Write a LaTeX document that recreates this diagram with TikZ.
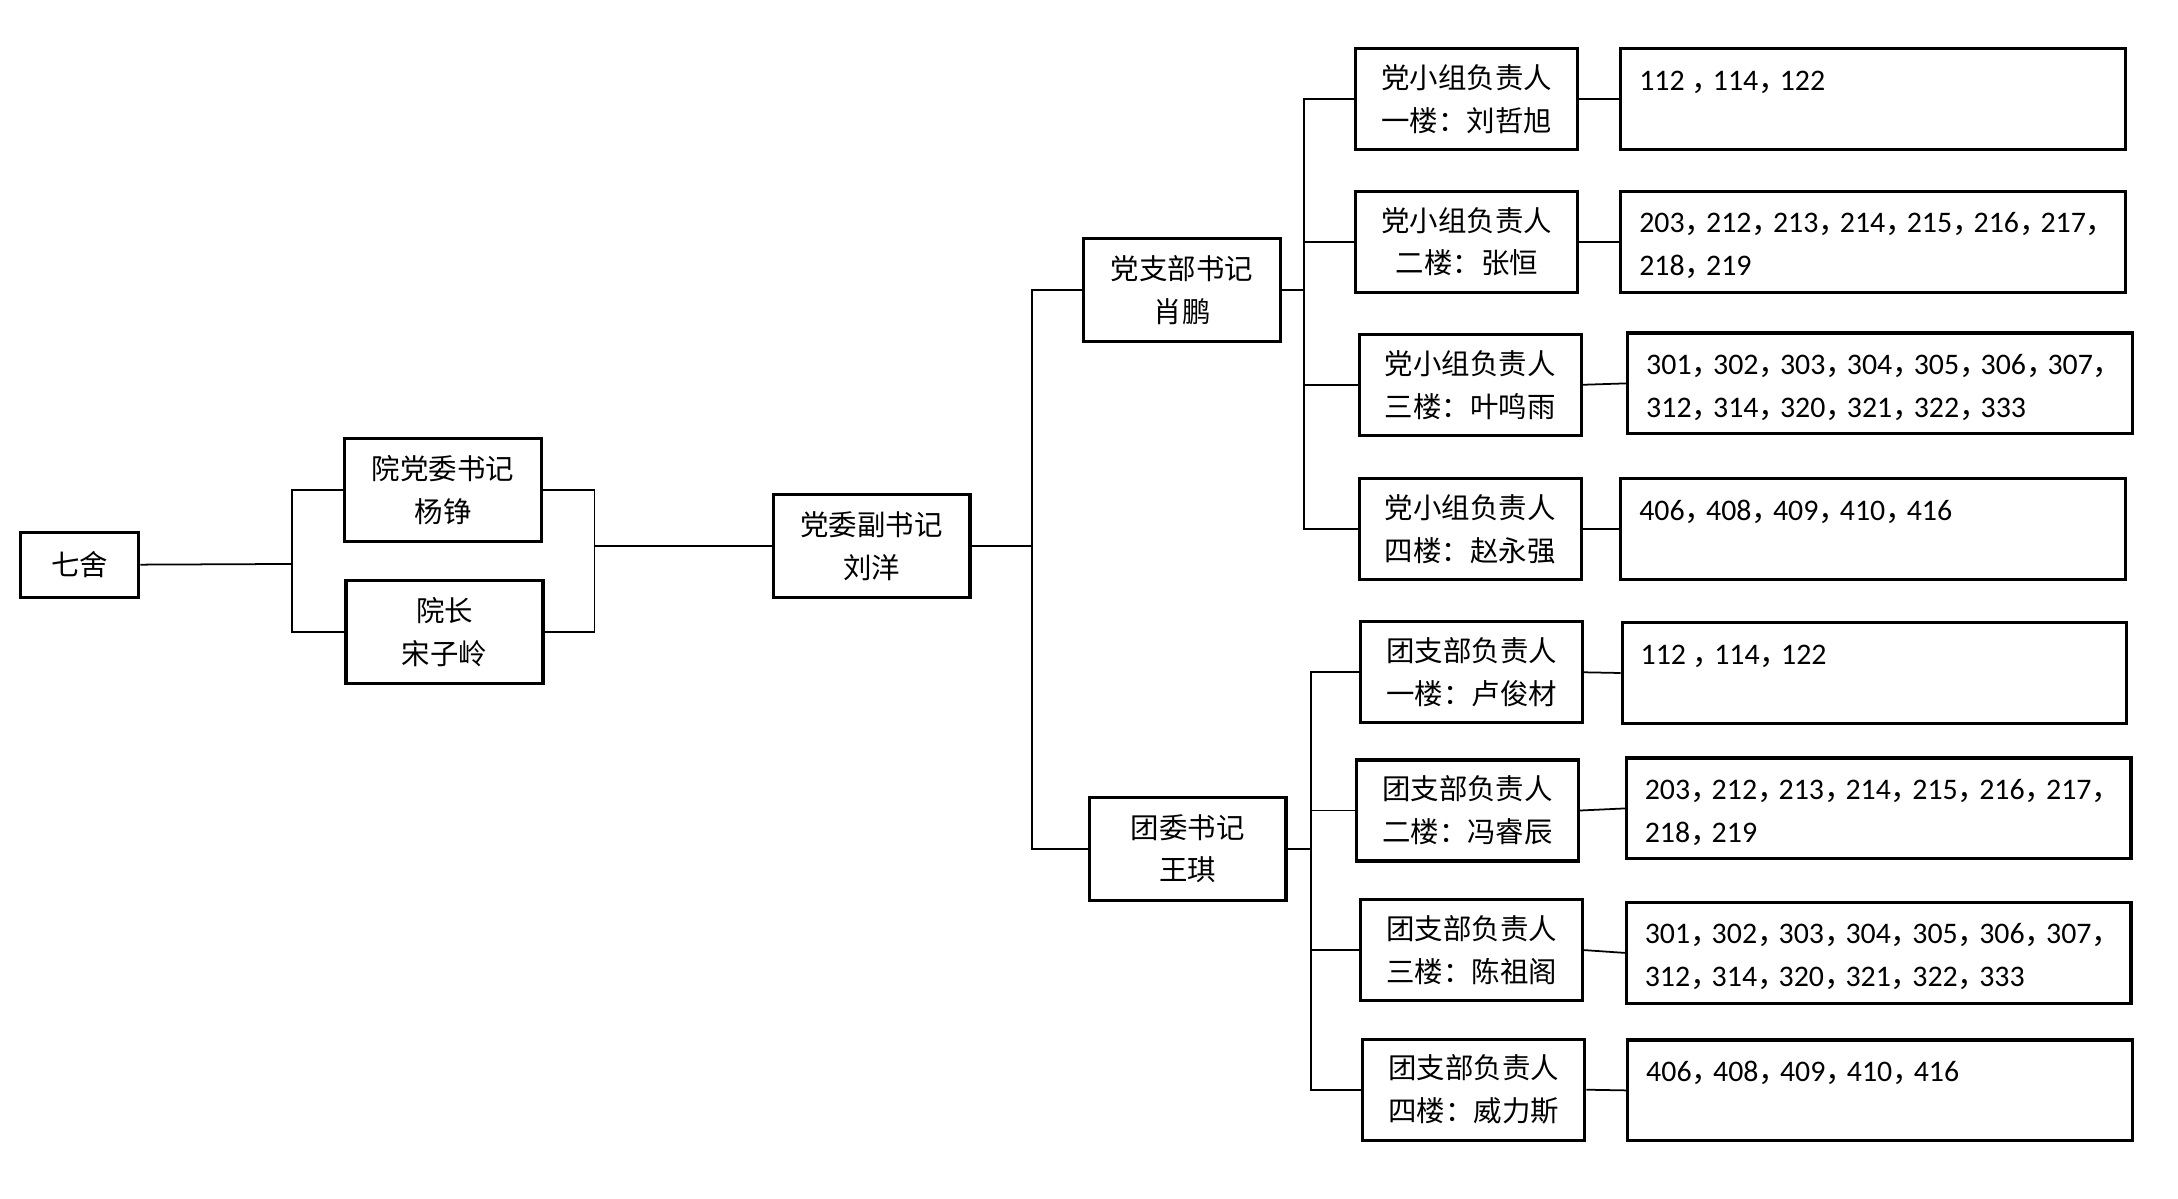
\documentclass[tikz,border=0pt]{standalone}
\usepackage{fontspec}
\setmainfont{Carlito}
\newfontfamily\cjk{Noto Sans CJK SC}
\usetikzlibrary{calc}
% full-width comma, a bit narrowed
\newcommand{\zdh}{\makebox[0.72em][l]{\cjk ，}}
\newcommand{\roomlist}[1]{\parbox[c][0.78cm][t]{4.68cm}{\raggedright\strut #1}}
\tikzset{
  box/.style={draw, line width=0.9pt, minimum width=1.97cm, minimum height=1.03cm,
    align=center, inner sep=1pt, font=\cjk\fontsize{8.1}{12.2}\selectfont},
  floorbox/.style={box, minimum width=2.22cm, minimum height=1.01cm},
  roombox/.style={draw, line width=0.9pt, minimum width=5.05cm, minimum height=1.01cm,
    inner sep=1pt, font=\fontsize{8.5}{12.2}\selectfont},
  link/.style={line width=0.5pt}
}
\begin{document}
\begin{tikzpicture}[x=0.0139cm, y=-0.0139cm]
        \useasboundingbox (0,0) rectangle (1568,863);
        % left part
        \node[box, minimum width=1.18cm, minimum height=0.65cm] (qs) at (57.5,406.5) {七舍};
        \node[box] (ydw) at (319,353) {院党委书记\\杨铮};
        \node[box] (yz) at (320,455) {院长\\宋子岭};
        \node[box] (fsj) at (627.5,393) {党委副书记\\刘洋};
        \node[box] (zb) at (851,209) {党支部书记\\肖鹏};
        \node[box] (tw) at (855,611) {团委书记\\王琪};
        % party groups
        \node[floorbox] (p1) at (1056,71.5) {党小组负责人\\一楼：刘哲旭};
        \node[floorbox] (p2) at (1056,174) {党小组负责人\\二楼：张恒};
        \node[floorbox] (p3) at (1058.5,277) {党小组负责人\\三楼：叶鸣雨};
        \node[floorbox] (p4) at (1058.5,381) {党小组负责人\\四楼：赵永强};
        \node[roombox] (pr1) at (1348.5,71.5) {\roomlist{112 \zdh 114\zdh 122}};
        \node[roombox] (pr2) at (1348.5,174) {\roomlist{203\zdh 212\zdh 213\zdh 214\zdh 215\zdh 216\zdh 217\zdh\\218\zdh 219}};
        \node[roombox] (pr3) at (1353.5,276) {\roomlist{301\zdh 302\zdh 303\zdh 304\zdh 305\zdh 306\zdh 307\zdh\\312\zdh 314\zdh 320\zdh 321\zdh 322\zdh 333}};
        \node[roombox] (pr4) at (1348.5,381) {\roomlist{406\zdh 408\zdh 409\zdh 410\zdh 416}};
        % youth groups
        \node[floorbox] (t1) at (1059.5,484) {团支部负责人\\一楼：卢俊材};
        \node[floorbox] (t2) at (1056.5,583.5) {团支部负责人\\二楼：冯睿辰};
        \node[floorbox] (t3) at (1059.5,684) {团支部负责人\\三楼：陈祖阁};
        \node[floorbox] (t4) at (1061,784.5) {团支部负责人\\四楼：威力斯};
        \node[roombox] (tr1) at (1349.5,484.5) {\roomlist{112 \zdh 114\zdh 122}};
        \node[roombox] (tr2) at (1352.5,582) {\roomlist{203\zdh 212\zdh 213\zdh 214\zdh 215\zdh 216\zdh 217\zdh\\218\zdh 219}};
        \node[roombox] (tr3) at (1352.5,686) {\roomlist{301\zdh 302\zdh 303\zdh 304\zdh 305\zdh 306\zdh 307\zdh\\312\zdh 314\zdh 320\zdh 321\zdh 322\zdh 333}};
        \node[roombox] (tr4) at (1353.5,785) {\roomlist{406\zdh 408\zdh 409\zdh 410\zdh 416}};
        % junctions
        \coordinate (jL) at (210,406);
        \coordinate (jR) at (428,393);
        \coordinate (jM) at (743,393);
        \coordinate (jP) at (939,209);
        \coordinate (jT) at (944,611);
        % connectors
        \draw[link] (qs.east) -- (jL);
        \draw[link] (ydw.west) -| (jL) |- (yz.west);
        \draw[link] (ydw.east) -| (jR) |- (yz.east);
        \draw[link] (jR) -- (fsj.west);
        \draw[link] (fsj.east) -- (jM);
        \draw[link] (zb.west) -| (jM) |- (tw.west);
        \draw[link] (zb.east) -- (jP);
        \draw[link] (p1.west) -| (jP) |- (p4.west);
        \draw[link] (tw.east) -- (jT);
        \draw[link] (t1.west) -| (jT) |- (t4.west);
        \foreach \i in {2,3} {
          \draw[link] (jP |- p\i.west) -- (p\i.west);
          \draw[link] (jT |- t\i.west) -- (t\i.west);
        }
        \foreach \i in {1,...,4} {
          \draw[link] (p\i.east) -- (pr\i.west);
          \draw[link] (t\i.east) -- (tr\i.west);
        }
      \end{tikzpicture}
\end{document}
